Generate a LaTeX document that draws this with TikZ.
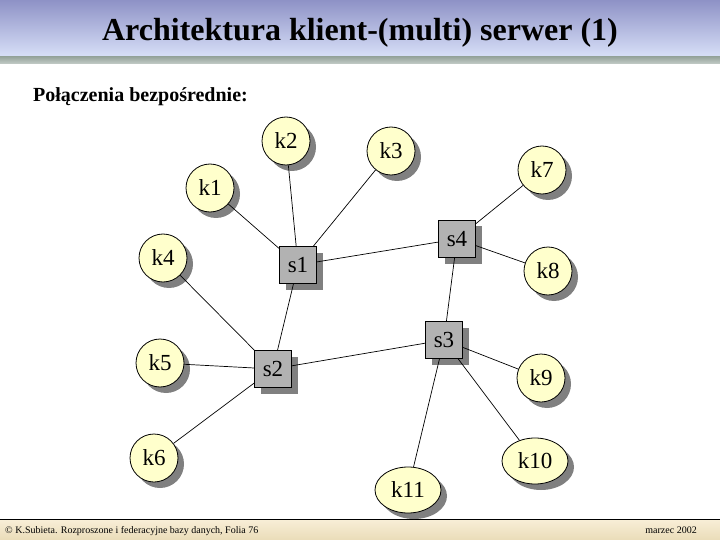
\documentclass[tikz,border=0pt]{standalone}
\usepackage{fontspec}
\setmainfont{Liberation Serif}
\usetikzlibrary{shadows,shapes.geometric}
\definecolor{nodeyellow}{HTML}{FFFFCC}
\definecolor{srvgray}{HTML}{B2B2B2}
\definecolor{hdrtop}{HTML}{8E92C6}
\definecolor{hdrbot}{HTML}{D8E0F8}
\definecolor{stripA}{HTML}{98A69E}
\definecolor{stripB}{HTML}{C4CCC8}
\definecolor{ftop}{HTML}{F8EED6}
\definecolor{fbot}{HTML}{EADCB8}
\begin{document}
\begin{tikzpicture}[x=1pt,y=-1pt,
  shad/.style={drop shadow={shadow xshift=6pt, shadow yshift=-6pt, fill=black!50, opacity=1}},
  client/.style={circle, draw=black, line width=0.8pt, fill=nodeyellow, minimum size=48pt, inner sep=0pt, font=\fontsize{23}{23}\selectfont, shad},
  clientell/.style={client, ellipse, minimum width=66pt, minimum height=46pt},
  server/.style={rectangle, draw=black, line width=0.8pt, fill=srvgray, minimum size=37pt, inner sep=0pt, font=\fontsize{23}{23}\selectfont, shad},
  link/.style={draw=black, line width=0.7pt}]
\useasboundingbox (0,0) rectangle (720,540);
% header
\shade[top color=hdrtop, bottom color=hdrbot] (0,0) rectangle (720,57);
\shade[top color=stripA, bottom color=stripB] (0,57) rectangle (720,64);
\node[anchor=base, font=\fontsize{32}{32}\selectfont\bfseries] (title) at (360,41) {Architektura klient-(multi) serwer (1)};
\node[anchor=base west, inner sep=0pt, font=\fontsize{20}{20}\selectfont\bfseries] (sub) at (33,102) {Połączenia bezpośrednie:};
% footer
\shade[top color=ftop, bottom color=fbot] (0,520) rectangle (720,540);
\draw[line width=1.5pt] (0,519.5) -- (720,519.5);
\node[anchor=base west, inner sep=0pt, font=\fontsize{10}{10}\selectfont] (foot) at (5,533) {© K.Subieta. Rozproszone i federacyjne bazy danych, Folia 76};
\node[anchor=base east, inner sep=0pt, font=\fontsize{10}{10}\selectfont] (date) at (697,533) {marzec 2002};
% servers
\node[server] (s1) at (298,265) {s1};
\node[server] (s2) at (273,369) {s2};
\node[server] (s3) at (444,340) {s3};
\node[server] (s4) at (457,239) {s4};
% clients
\node[client] (k1) at (210,188) {k1};
\node[client] (k2) at (286,141) {k2};
\node[client] (k3) at (391,151) {k3};
\node[client] (k4) at (163,258) {k4};
\node[client] (k5) at (160,363) {k5};
\node[client] (k6) at (154,458) {k6};
\node[client] (k7) at (542,170) {k7};
\node[client] (k8) at (548,271) {k8};
\node[client] (k9) at (541,378) {k9};
\node[clientell] (k10) at (535,461) {k10};
\node[clientell] (k11) at (408,490) {k11};
% links
\draw[link] (s1) -- (k1);
\draw[link] (s1) -- (k2);
\draw[link] (s1) -- (k3);
\draw[link] (s1) -- (s4);
\draw[link] (s1) -- (s2);
\draw[link] (s2) -- (k4);
\draw[link] (s2) -- (k5);
\draw[link] (s2) -- (k6);
\draw[link] (s2) -- (s3);
\draw[link] (s4) -- (k7);
\draw[link] (s4) -- (k8);
\draw[link] (s4) -- (s3);
\draw[link] (s3) -- (k9);
\draw[link] (s3) -- (k10);
\draw[link] (s3) -- (k11);
\end{tikzpicture}
\end{document}
